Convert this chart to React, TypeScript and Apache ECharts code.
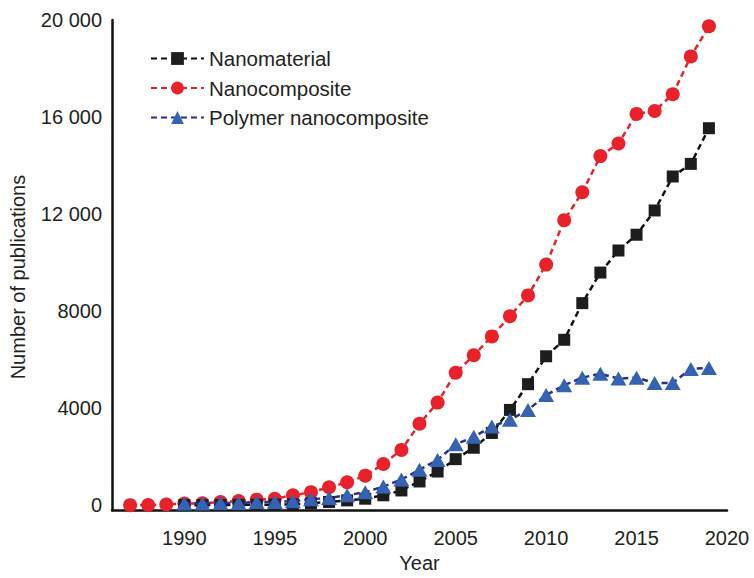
import React, { useEffect, useRef } from "react";
import * as echarts from "echarts";

const nanocompositeYears = [1987, 1988, 1989, 1990, 1991, 1992, 1993, 1994, 1995, 1996, 1997, 1998, 1999, 2000, 2001, 2002, 2003, 2004, 2005, 2006, 2007, 2008, 2009, 2010, 2011, 2012, 2013, 2014, 2015, 2016, 2017, 2018, 2019];
const nanocomposite = [5, 10, 30, 70, 80, 130, 175, 230, 270, 410, 540, 740, 950, 1220, 1700, 2280, 3360, 4230, 5460, 6180, 6960, 7790, 8650, 9920, 11750, 12900, 14390, 14910, 16130, 16250, 16940, 18500, 19740];

const laterYears = [1990, 1991, 1992, 1993, 1994, 1995, 1996, 1997, 1998, 1999, 2000, 2001, 2002, 2003, 2004, 2005, 2006, 2007, 2008, 2009, 2010, 2011, 2012, 2013, 2014, 2015, 2016, 2017, 2018, 2019];
const nanomaterial = [5, 5, 10, 15, 20, 25, 40, 80, 135, 200, 270, 410, 610, 980, 1390, 1900, 2370, 2980, 3930, 4990, 6140, 6820, 8330, 9590, 10500, 11150, 12150, 13550, 14070, 15540];
const polymerNanocomposite = [70, 70, 90, 90, 135, 135, 165, 245, 300, 410, 540, 770, 1060, 1460, 1870, 2510, 2820, 3250, 3520, 3930, 4540, 4950, 5260, 5420, 5220, 5260, 5040, 5040, 5620, 5660];

const yTickLabels = ["0", "4000", "8000", "12 000", "16 000", "20 000"];
const xTickLabels = ["1990", "1995", "2000", "2005", "2010", "2015", "2020"];

const FONT = '"Liberation Sans", Arial, Helvetica, sans-serif';
const TEXT = "#231f20";

export default function App() {
  const ref = useRef<HTMLDivElement>(null);
  useEffect(() => {
    if (!ref.current) return;
    const chart = echarts.init(ref.current, undefined, { renderer: "svg" });
    const pair = (xs: number[], ys: number[]) => xs.map((x, i) => [x, ys[i]]);
    chart.setOption({
      animation: false,
      backgroundColor: "#ffffff",
      textStyle: { fontFamily: FONT },
      grid: { left: 110, right: 27, top: 20, bottom: 63, containLabel: false },
      legend: {
        orient: "vertical",
        left: 150,
        top: 48,
        padding: 0,
        itemWidth: 53,
        itemHeight: 16,
        itemGap: 8.5,
        textStyle: { fontSize: 20.5, color: TEXT, fontFamily: FONT, lineHeight: 20 },
        data: ["Nanomaterial", "Nanocomposite", "Polymer nanocomposite"],
      },
      xAxis: {
        type: "value",
        min: 1986,
        max: 2020,
        interval: 1,
        name: "Year",
        nameLocation: "middle",
        nameGap: 42,
        nameTextStyle: { fontSize: 20, color: TEXT, fontFamily: FONT },
        axisLine: { onZero: false, lineStyle: { color: "#111", width: 2.5 } },
        axisTick: { show: false },
        splitLine: { show: false },
        axisLabel: {
          fontSize: 20,
          color: TEXT,
          fontFamily: FONT,
          margin: 18,
          formatter: (v: number) => {
            const s = String(Math.round(v));
            return xTickLabels.includes(s) && Math.abs(v - Math.round(v)) < 1e-6 ? s : "";
          },
        },
      },
      yAxis: {
        type: "value",
        min: -200,
        max: 20000,
        interval: 200,
        name: "Number of publications",
        nameLocation: "middle",
        nameGap: 84,
        nameTextStyle: { fontSize: 20, color: TEXT, fontFamily: FONT, padding: [0, 24, 0, 0] },
        axisLine: { show: true, onZero: false, lineStyle: { color: "#111", width: 2.5 } },
        axisTick: { show: false },
        splitLine: { show: false },
        axisLabel: {
          fontSize: 20,
          color: TEXT,
          fontFamily: FONT,
          margin: 10,
          formatter: (v: number) => {
            if (v < 0 || v % 4000 !== 0) return "";
            return yTickLabels[v / 4000] ?? "";
          },
        },
      },
      series: [
        {
          name: "Nanocomposite",
          type: "line",
          data: pair(nanocompositeYears, nanocomposite),
          symbol: "circle",
          symbolSize: 14,
          itemStyle: { color: "#e8212a" },
          lineStyle: { color: "#e8212a", width: 2.5, type: [6, 4] },
          z: 2,
        },
        {
          name: "Nanomaterial",
          type: "line",
          data: pair(laterYears, nanomaterial),
          symbol: "rect",
          symbolSize: 12,
          itemStyle: { color: "#1d1d1d" },
          lineStyle: { color: "#111111", width: 2.5, type: [6, 4] },
          z: 3,
        },
        {
          name: "Polymer nanocomposite",
          type: "line",
          data: pair(laterYears, polymerNanocomposite),
          symbol: "triangle",
          symbolSize: [16, 14],
          itemStyle: { color: "#3562b2" },
          lineStyle: { color: "#2b2d8e", width: 2.5, type: [6, 4] },
          z: 4,
        },
      ],
    });
    return () => chart.dispose();
  }, []);
  return (
    <div
      ref={ref}
      style={{ position: "fixed", left: 0, top: 0, width: 754, height: 578, background: "#fff" }}
    />
  );
}
